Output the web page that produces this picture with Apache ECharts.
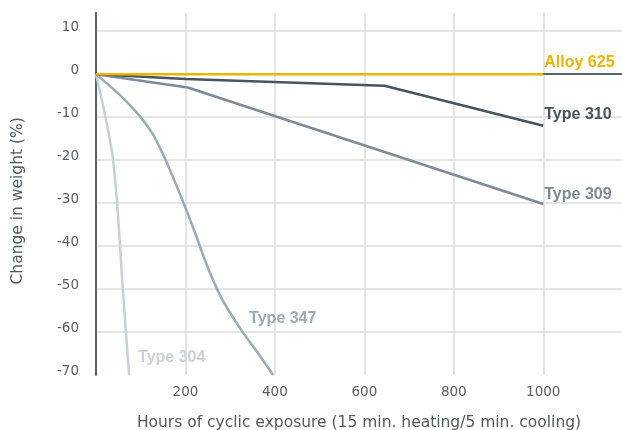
<!DOCTYPE html>
<html>
<head>
<meta charset="utf-8">
<script src="https://cdn.jsdelivr.net/npm/echarts@6/dist/echarts.min.js"></script>
<style>
    html, body { margin: 0; padding: 0; background: #fff; }
    #weight-chart { width: 622px; height: 430px; }
</style>
</head>
<body>
<div id="weight-chart"></div>
<script>
    // [hours, change in weight %]
    var alloy625 = [[0, 0], [1000, 0]];
    var type310 = [[0, 0], [200, -1.1], [645, -2.7], [1000, -12]];
    var type309 = [[0, 0], [205, -3.1], [1000, -30.2]];
    var type347 = [[0, 0], [60, -5.5], [100, -10], [130, -14.5], [160, -21], [190, -28.5],
        [220, -36.5], [250, -45], [280, -52], [320, -58.8], [360, -64.6], [396, -70]];
    var type304 = [[0, 0], [12, -5.5], [27, -13], [37, -19], [43, -25], [48, -31],
        [59, -48.5], [67, -60], [74, -70]];

    var seriesNames = ['Alloy 625', 'Type 310', 'Type 309', 'Type 347', 'Type 304'];
    var xTicks = [0, 200, 400, 600, 800, 1000];
    var yTicks = [-70, -60, -50, -40, -30, -20, -10, 0, 10];

    var axisFont = 'DejaVu Sans';
    var labelFont = 'Liberation Sans';

    function makeLine(name, data, color, labelColor, offset, smooth) {
        return {
            name: name,
            type: 'line',
            data: data,
            smooth: smooth,
            symbol: 'none',
            lineStyle: { color: color, width: 2.5 },
            itemStyle: { color: color },
            endLabel: {
                show: true,
                formatter: name,
                color: labelColor,
                fontFamily: labelFont,
                fontWeight: 'bold',
                fontSize: 16,
                distance: 1,
                offset: offset
            }
        };
    }

    var myChart = echarts.init(document.getElementById('weight-chart'));
    myChart.setOption({
        animation: false,
        grid: { left: 96, right: 0, top: 12.7, bottom: 55, containLabel: false, outerBoundsMode: 'none' },
        xAxis: {
            type: 'value',
            min: xTicks[0],
            max: 1176,
            interval: 200,
            name: 'Hours of cyclic exposure (15 min. heating/5 min. cooling)',
            nameLocation: 'middle',
            nameGap: 40,
            nameTextStyle: { fontFamily: axisFont, fontSize: 15.5, color: '#4e5a63' },
            axisLine: { show: true, lineStyle: { color: '#55626b', width: 2 } },
            axisTick: { show: false },
            axisLabel: {
                showMinLabel: false,
                showMaxLabel: false,
                margin: 10,
                fontFamily: axisFont,
                fontSize: 13.5,
                color: '#55606a',
                formatter: function (v) { return String(v); }
            },
            splitLine: {
                show: true,
                showMinLine: false,
                showMaxLine: false,
                lineStyle: { color: '#dcdcdc', width: 1.5 }
            }
        },
        yAxis: {
            type: 'value',
            min: yTicks[0],
            max: 14.3,
            interval: 10,
            name: 'Change in weight (%)',
            nameLocation: 'middle',
            nameGap: 70,
            nameTextStyle: { fontFamily: axisFont, fontSize: 15.5, color: '#4e5a63', padding: [0, 14, 0, 0] },
            axisLine: { show: true, lineStyle: { color: '#55626b', width: 2 } },
            axisTick: { show: false },
            axisLabel: {
                showMaxLabel: false,
                margin: 17,
                verticalAlign: 'bottom',
                lineHeight: 8,
                fontFamily: axisFont,
                fontSize: 13.5,
                color: '#55606a'
            },
            splitLine: {
                show: true,
                showMinLine: false,
                showMaxLine: false,
                lineStyle: { color: '#dcdcdc', width: 1.5 }
            }
        },
        series: [
            makeLine(seriesNames[4], type304, '#c6d0d7', '#c8d2d8', [8, -17], 0.3),
            makeLine(seriesNames[3], type347, '#9aabb5', '#9aaab5', [-25, -56], 0.3),
            makeLine(seriesNames[2], type309, '#7b8c98', '#7b8c98', [0, -9], false),
            makeLine(seriesNames[1], type310, '#46555f', '#46555f', [0, -11], false),
            makeLine(seriesNames[0], alloy625, '#f0b400', '#f0b400', [0, -12], false)
        ]
    });
</script>
</body>
</html>
